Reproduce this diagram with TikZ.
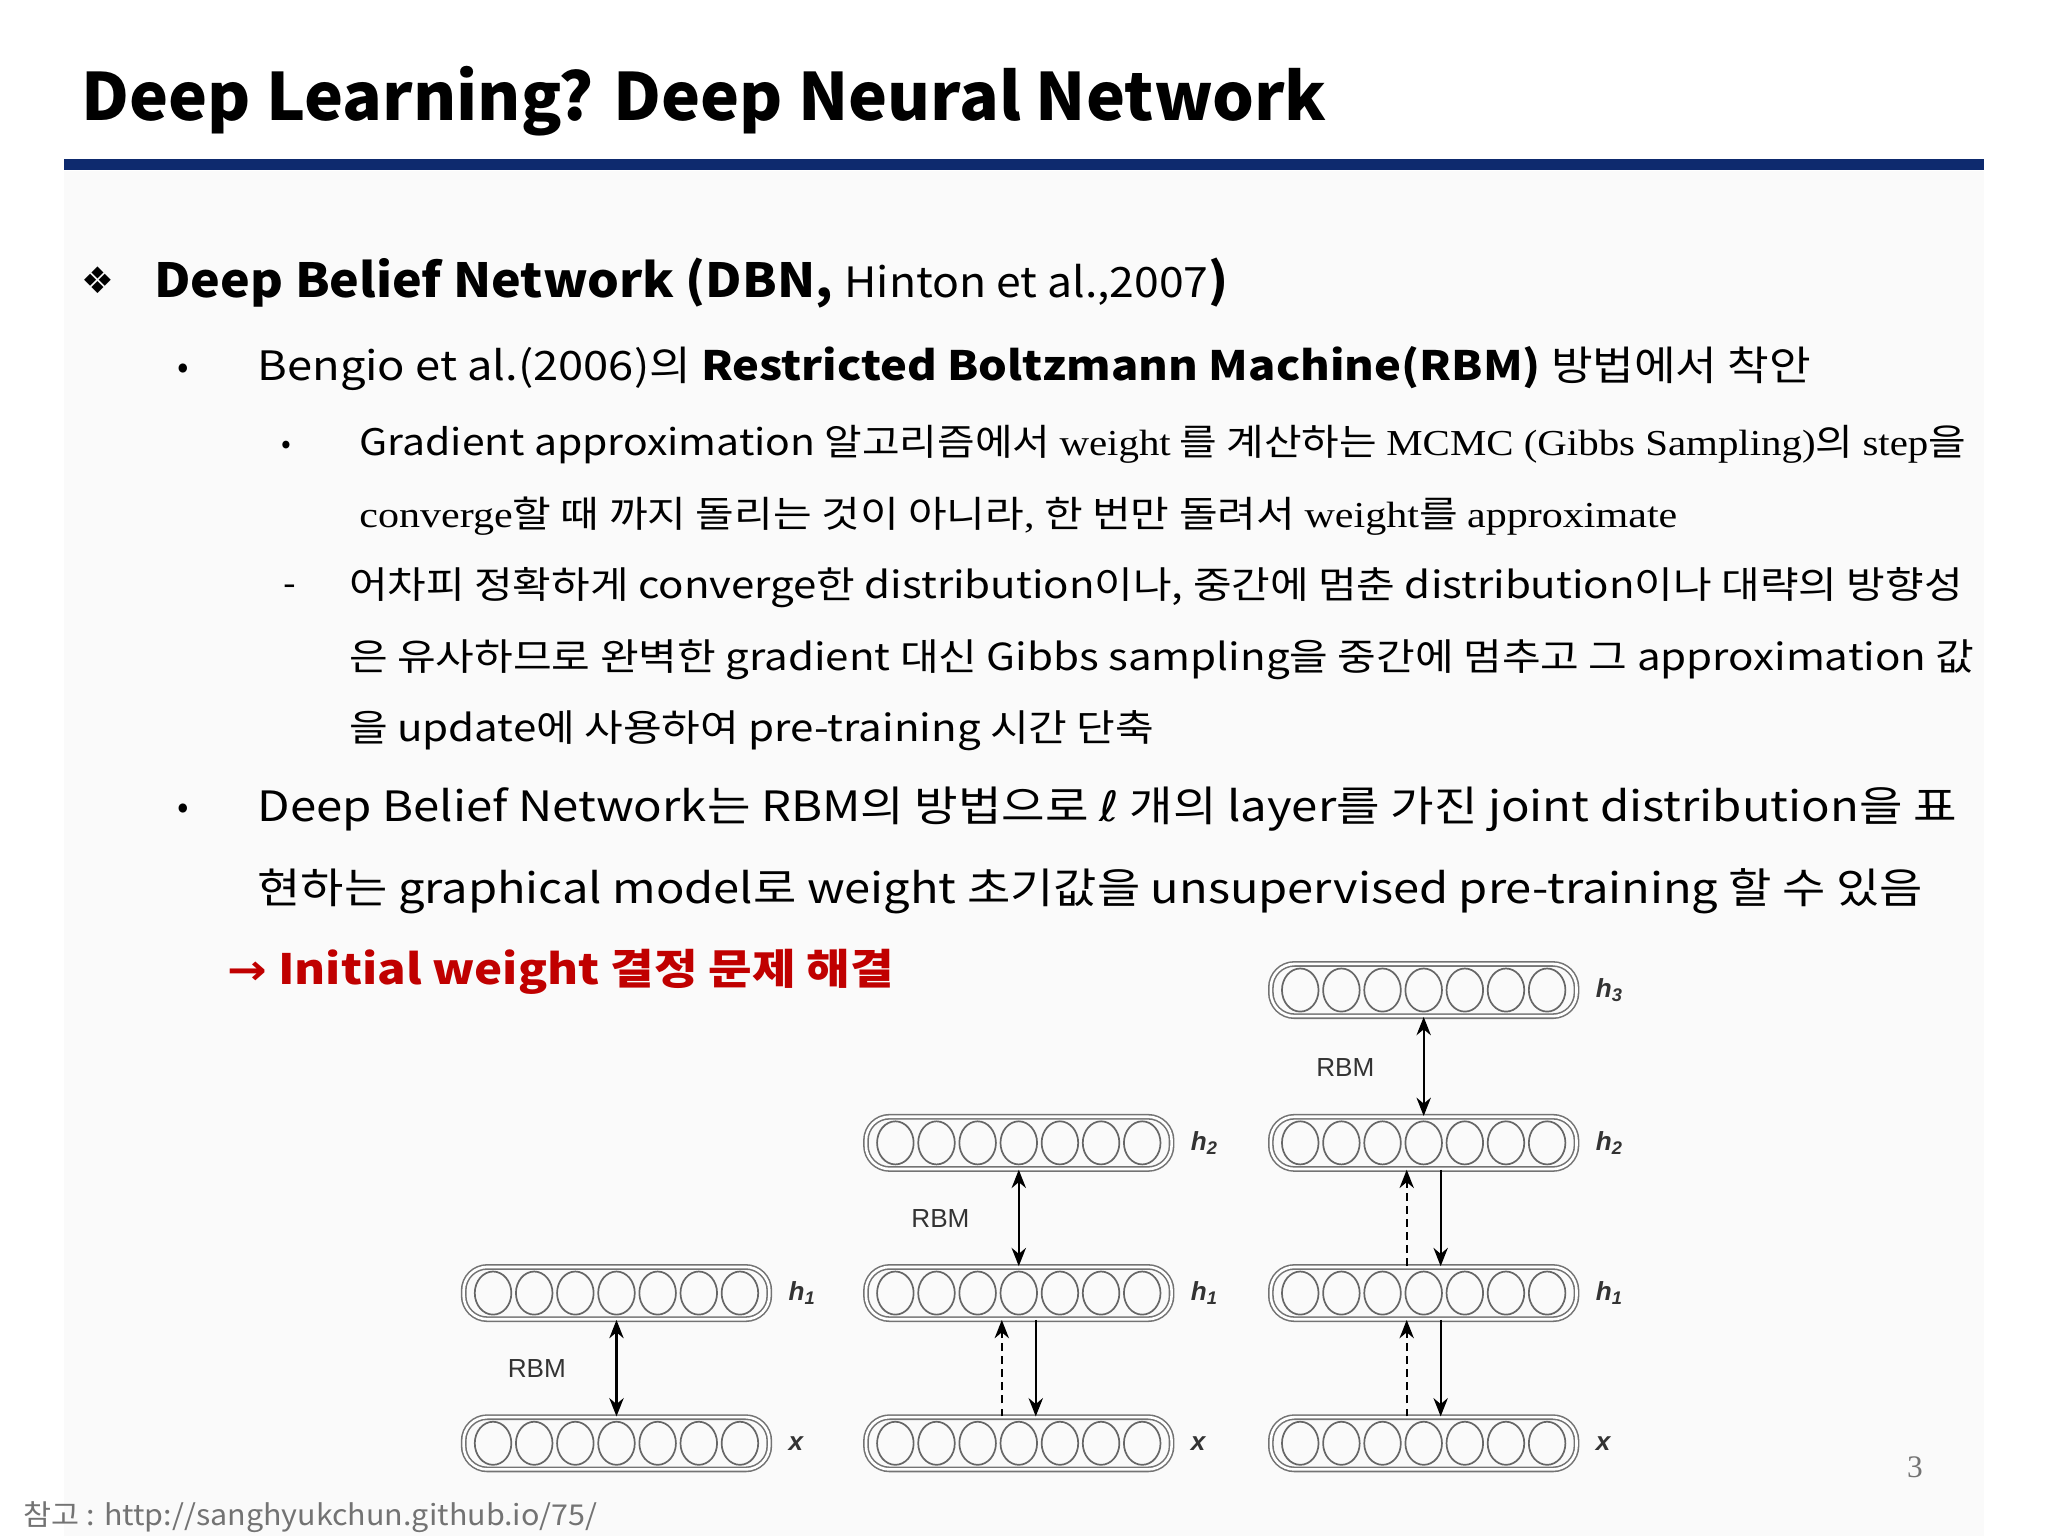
\documentclass[tikz,border=0pt]{standalone}
\usepackage{fontspec}
\usepackage{graphicx}
\setmainfont{Noto Sans CJK KR}
\newfontfamily\kr{Noto Sans CJK KR}
\newfontfamily\sr{Liberation Serif}
\newfontfamily\sym{DejaVu Sans}
\newfontfamily\lab{Liberation Sans}
\usetikzlibrary{arrows.meta}
\definecolor{navy}{HTML}{0E2A6E}
\definecolor{myred}{HTML}{C00000}
\tikzset{
 txt/.style={anchor=base west,inner sep=0pt,text=black},
 layerbox/.style={draw=black!55,double=white,double distance=2pt,line width=1.2pt,rounded corners=18pt,minimum width=234pt,minimum height=40pt,inner sep=0pt},
 unit/.style={draw=black!60,line width=1.3pt},
 hl/.style={anchor=west,inner sep=0pt,text=black!80,font=\lab\bfseries\fontsize{20}{20}\selectfont\itshape},
 rbm/.style={inner sep=0pt,text=black!80,font=\lab\fontsize{20}{20}\selectfont},
 arr/.style={line width=1.6pt,-{Stealth[length=14pt,width=11pt]}},
 darr/.style={line width=1.6pt,{Stealth[length=14pt,width=11pt]}-{Stealth[length=14pt,width=11pt]}},
 dasharr/.style={line width=1.6pt,dash pattern=on 6pt off 4pt,-{Stealth[length=14pt,width=11pt]}}
}
\newcommand\mylayer[3]{%
 \node[layerbox] (#1) at (#2) {};
 \foreach \k in {-3,...,3}{\draw[unit] ([xshift=\k*31.5pt]#1.center) ellipse (14pt and 16.5pt);}
 \node[hl] at ([xshift=14pt]#1.east) {#3};}
\newcommand\sx[2]{\scalebox{#1}[1]{#2}}
\begin{document}
\begin{tikzpicture}[x=1pt,y=-1pt]
\useasboundingbox (0,0) rectangle (1568,1176);
\fill[white] (0,0) rectangle (1568,1176);
\fill[black!2] (49,131) rectangle (1519,1176);
\node[txt,font=\kr\bfseries\fontsize{50}{50}\selectfont] (title) at (62,92) {\sx{1.008}{Deep Learning? Deep Neural Network}};
\fill[navy] (49,122) rectangle (1519,130);
\node[txt,font=\sym\fontsize{28}{28}\selectfont] (b0) at (62,225) {❖};
\node[txt,font=\fontsize{36}{36}\selectfont] (l1) at (118,228) {\sx{1.065}{\bfseries Deep Belief Network (DBN, \mdseries\fontsize{32}{32}\selectfont Hinton et al.,2007\bfseries\fontsize{36}{36}\selectfont)}};
\node[txt,font=\fontsize{26}{26}\selectfont] at (136,290) {•};
\node[txt,font=\fontsize{31}{31}\selectfont] (l2) at (197,291) {\sx{1.118}{Bengio et al.(2006)의 \textbf{Restricted Boltzmann Machine(RBM)} 방법에서 착안}};
\node[txt,font=\fontsize{22}{22}\selectfont] at (215,347) {•};
\node[txt,font=\fontsize{28}{28}\selectfont] (l3) at (275,349) {\sx{1.118}{Gradient approximation 알고리즘에서 {\sr weight} 를 계산하는 {\sr MCMC (Gibbs Sampling)}의 {\sr step}을}};
\node[txt,font=\fontsize{28}{28}\selectfont] (l4) at (275,404) {\sx{1.15}{{\sr converge}할 때 까지 돌리는 것이 아니라{\sr ,} 한 번만 돌려서 {\sr weight}를 {\sr approximate}}};
\node[txt,font=\fontsize{28}{28}\selectfont] at (217,457) {-};
\node[txt,font=\fontsize{28.5}{28.5}\selectfont] (l5) at (267,458) {\sx{1.128}{어차피 정확하게 converge한 distribution이나, 중간에 멈춘 distribution이나 대략의 방향성}};
\node[txt,font=\fontsize{28.5}{28.5}\selectfont] (l6) at (267,513) {\sx{1.13}{은 유사하므로 완벽한 gradient 대신 Gibbs sampling을 중간에 멈추고 그 approximation 값}};
\node[txt,font=\fontsize{28.5}{28.5}\selectfont] (l7) at (267,568) {\sx{1.13}{을 update에 사용하여 pre-training 시간 단축}};
\node[txt,font=\fontsize{26}{26}\selectfont] at (136,627) {•};
\node[txt,font=\fontsize{32}{32}\selectfont] (l8) at (197,629) {\sx{1.132}{Deep Belief Network는 RBM의 방법으로 {\sym ℓ} 개의 layer를 가진 joint distribution을 표}};
\node[txt,font=\fontsize{32}{32}\selectfont] (l9) at (197,692) {\sx{1.126}{현하는 graphical model로 weight 초기값을 unsupervised pre-training 할 수 있음}};
\node[txt,text=myred,font=\bfseries\fontsize{32}{32}\selectfont] (l10) at (174,754) {\sx{1.134}{{\sym\bfseries →} Initial weight 결정 문제 해결}};
% diagram
\mylayer{ah1}{472,990}{h\textsubscript{1}}
\mylayer{ax}{472,1105}{x}
\mylayer{bh2}{780,875}{h\textsubscript{2}}
\mylayer{bh1}{780,990}{h\textsubscript{1}}
\mylayer{bx}{780,1105}{x}
\mylayer{ch3}{1090,758}{h\textsubscript{3}}
\mylayer{ch2}{1090,875}{h\textsubscript{2}}
\mylayer{ch1}{1090,990}{h\textsubscript{1}}
\mylayer{cx}{1090,1105}{x}
\draw[darr] (ah1.south) -- (ax.north);
\node[rbm] at (411,1048) {RBM};
\draw[darr] (bh2.south) -- (bh1.north);
\node[rbm] at (720,933) {RBM};
\draw[dasharr] ([xshift=-13pt]bx.north) -- ([xshift=-13pt]bh1.south);
\draw[arr] ([xshift=13pt]bh1.south) -- ([xshift=13pt]bx.north);
\draw[darr] (ch3.south) -- (ch2.north);
\node[rbm] at (1030,817) {RBM};
\draw[dasharr] ([xshift=-13pt]ch1.north) -- ([xshift=-13pt]ch2.south);
\draw[arr] ([xshift=13pt]ch2.south) -- ([xshift=13pt]ch1.north);
\draw[dasharr] ([xshift=-13pt]cx.north) -- ([xshift=-13pt]ch1.south);
\draw[arr] ([xshift=13pt]ch1.south) -- ([xshift=13pt]cx.north);
\node[txt,text=black!55,font=\sr\fontsize{24}{24}\selectfont] (pg) at (1460,1131) {3};
\node[txt,text=black!55,font=\fontsize{22}{22}\selectfont] (ref) at (18,1168) {\sx{1.06}{참고 : http://sanghyukchun.github.io/75/}};
\end{tikzpicture}
\end{document}
